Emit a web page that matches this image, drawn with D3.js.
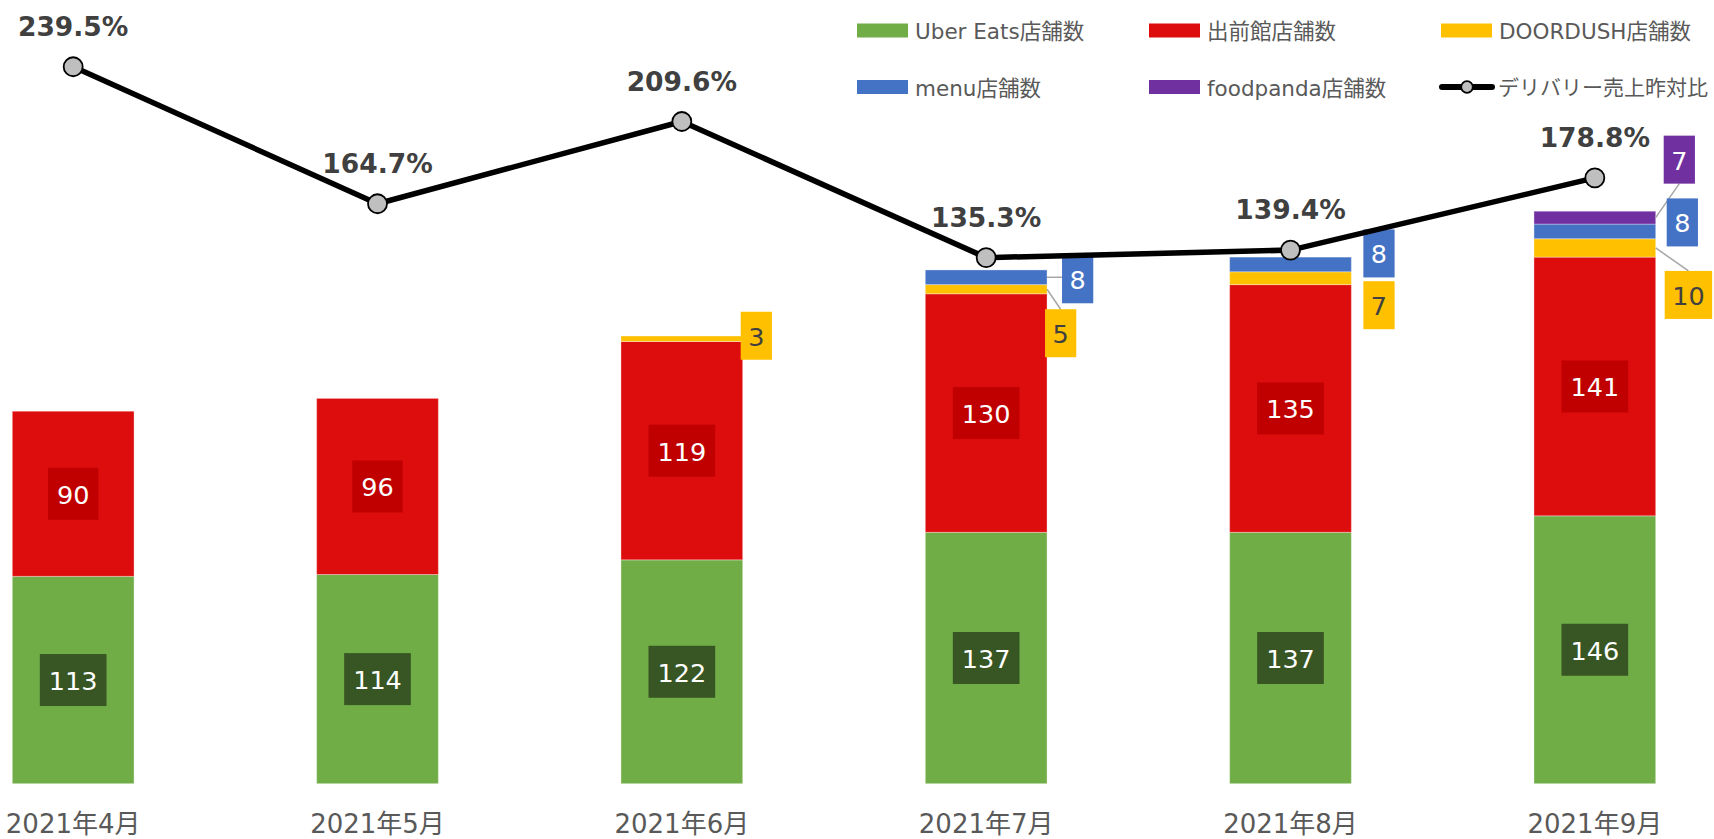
<!DOCTYPE html>
<html>
<head>
<meta charset="utf-8">
<script src="https://cdn.jsdelivr.net/npm/d3@7"></script>
<style>
  body { margin: 0; background: #fff; }
  svg { display: block; font-family: Verdana, "DejaVu Sans", "Noto Sans CJK JP", sans-serif; }
</style>
</head>
<body>
<script>
// data
var months = ['2021年4月', '2021年5月', '2021年6月', '2021年7月', '2021年8月', '2021年9月']
var uberEats = [113, 114, 122, 137, 137, 146]
var demaekan = [90, 96, 119, 130, 135, 141]
var doordush = [0, 0, 3, 5, 7, 10]
var menuShops = [0, 0, 0, 8, 8, 8]
var foodpanda = [0, 0, 0, 0, 0, 7]
var salesRatio = [239.5, 164.7, 209.6, 135.3, 139.4, 178.8]

var seriesKeys = ['uber', 'demae', 'door', 'menu', 'panda']
var seriesNames = ['Uber Eats店舗数', '出前館店舗数', 'DOORDUSH店舗数', 'menu店舗数', 'foodpanda店舗数']
var lineName = 'デリバリー売上昨対比'

var colors = {uber: '#70ad47', demae: '#de0d0d', door: '#ffc000', menu: '#4472c4', panda: '#7030a0'}
var boxColors = {uber: '#375623', demae: '#c00000', door: '#ffc000', menu: '#4472c4', panda: '#7030a0'}
var textColors = {uber: '#fff', demae: '#fff', door: '#404040', menu: '#fff', panda: '#fff'}

svgWidth = 1714
svgHeight = 839

// manual label nudges for the thin segments (like excel moved labels), px from bar right / segment middle
var smallNudge = {
  'door-2': {dx: -2, dy: -3},
  'menu-3': {dx: 15, dy: 2, leader: true},
  'door-3': {dx: -2, dy: 44, leader: true},
  'menu-4': {dx: 12, dy: -11},
  'door-4': {dx: 12, dy: 27},
  'panda-5': {dx: 8, dy: -58, leader: true},
  'menu-5': {dx: 11, dy: -9},
  'door-5': {dx: 9, dy: 47, leader: true}
}

var table = months.map(function(m, i) {
  return {month: m, uber: uberEats[i], demae: demaekan[i], door: doordush[i],
          menu: menuShops[i], panda: foodpanda[i], ratio: salesRatio[i]}
})

var stacked = d3.stack().keys(seriesKeys)(table)

xScale = d3.scaleBand()
            .domain(months)
            .range([-79, 1747])
            .paddingInner(0.6)
            .paddingOuter(0.3)

yScale = d3.scaleLinear()
            .domain([0, 350])
            .range([783.7, 141.5])

y2Scale = d3.scaleLinear()
            .domain([0, 250])
            .range([505.5, 47.5])

var svg = d3.select('body').append('svg')
          .attr('width', svgWidth)
          .attr('height', svgHeight)

// bars
var layers = svg.selectAll('g.layer')
            .data(stacked)
            .enter().append('g')
              .attr('class', 'layer')
              .attr('fill', function(d) { return colors[d.key] })

layers.selectAll('rect')
    .data(function(d) { return d.filter(function(p) { return p[1] - p[0] > 0 }) })
    .enter().append('rect')
      .attr('x', function(d) { return xScale(d.data.month) })
      .attr('y', function(d) { return yScale(d[1]) })
      .attr('width', xScale.bandwidth())
      .attr('height', function(d) { return yScale(d[0]) - yScale(d[1]) })
      .attr('stroke', '#fff')
      .attr('stroke-opacity', 0.35)
      .attr('stroke-width', 1)

// x axis
xAxis = d3.axisBottom().scale(xScale)
            .tickSize(0)
            .tickPadding(31)

var gx = svg.append('g')
    .attr('transform', 'translate(0, 783.7)')
    .call(xAxis)
gx.select('.domain').remove()
gx.selectAll('text')
    .attr('font-size', 26)
    .attr('fill', '#595959')
    .attr('font-family', 'Verdana, "DejaVu Sans", "Noto Sans CJK JP", sans-serif')

// value labels
var labelG = svg.append('g')
var leaderG = labelG.append('g')

stacked.forEach(function(layer) {
  var key = layer.key
  layer.forEach(function(p, i) {
    var v = p[1] - p[0]
    if (v <= 0) return
    var midY = (yScale(p[0]) + yScale(p[1])) / 2
    var big = key === 'uber' || key === 'demae'
    var g = labelG.append('g')
    var box = g.append('rect').attr('fill', boxColors[key])
    var t = g.append('text')
        .text(v)
        .attr('font-size', 25.5)
        .attr('fill', textColors[key])
        .attr('text-anchor', 'middle')
        .attr('dominant-baseline', 'central')
    var tw = t.node().getComputedTextLength()
    var bw, bh, cx, cy
    if (big) {
      bw = tw + 18; bh = 52
      cx = xScale(p.data.month) + xScale.bandwidth() / 2
      cy = midY
    } else {
      var n = smallNudge[key + '-' + i] || {dx: 8, dy: 0}
      bw = tw + 15; bh = 48
      var barRight = xScale(p.data.month) + xScale.bandwidth()
      cx = barRight + n.dx + bw / 2
      cy = midY + n.dy
      if (n.leader) {
        var lx, ly
        if (cy - bh / 2 > midY) { lx = cx; ly = cy - bh / 2 }
        else if (cy + bh / 2 < midY) { lx = cx; ly = cy + bh / 2 }
        else { lx = cx - bw / 2; ly = midY }
        leaderG.append('line')
            .attr('x1', barRight).attr('y1', midY)
            .attr('x2', lx).attr('y2', ly)
            .attr('stroke', '#a6a6a6')
            .attr('stroke-width', 1.5)
      }
    }
    box.attr('x', cx - bw / 2).attr('y', cy - bh / 2)
       .attr('width', bw).attr('height', bh)
    t.attr('x', cx).attr('y', cy + 1)
  })
})

// ratio line
var line = d3.line()
    .x(function(d) { return xScale(d.month) + xScale.bandwidth() / 2 })
    .y(function(d) { return y2Scale(d.ratio) })

svg.append('path')
    .datum(table)
    .attr('d', line)
    .attr('fill', 'none')
    .attr('stroke', '#000')
    .attr('stroke-width', 5.5)
    .attr('stroke-linejoin', 'round')

svg.selectAll('circle.pt')
    .data(table)
    .enter().append('circle')
      .attr('class', 'pt')
      .attr('cx', function(d) { return xScale(d.month) + xScale.bandwidth() / 2 })
      .attr('cy', function(d) { return y2Scale(d.ratio) })
      .attr('r', 9.5)
      .attr('fill', '#bfbfbf')
      .attr('stroke', '#000')
      .attr('stroke-width', 1.8)

svg.selectAll('text.ratio')
    .data(table)
    .enter().append('text')
      .attr('class', 'ratio')
      .attr('x', function(d) { return xScale(d.month) + xScale.bandwidth() / 2 })
      .attr('y', function(d) { return y2Scale(d.ratio) - 31 })
      .attr('text-anchor', 'middle')
      .attr('font-size', 26.5)
      .attr('font-weight', 'bold')
      .attr('fill', '#404040')
      .text(function(d) { return d.ratio.toFixed(1) + '%' })

// legend
var legendItems = seriesKeys.map(function(k, i) { return {key: k, name: seriesNames[i]} })
legendItems.push({key: 'line', name: lineName})

var legend = svg.append('g')
var items = legend.selectAll('g')
    .data(legendItems)
    .enter().append('g')
      .attr('transform', function(d, i) {
        return 'translate(' + (857 + (i % 3) * 292) + ', ' + (30.5 + Math.floor(i / 3) * 56.5) + ')'
      })

items.each(function(d) {
  var g = d3.select(this)
  if (d.key === 'line') {
    g.append('line')
        .attr('x1', 1).attr('x2', 51).attr('y1', 0).attr('y2', 0)
        .attr('stroke', '#000').attr('stroke-width', 6).attr('stroke-linecap', 'round')
    g.append('circle')
        .attr('cx', 26).attr('cy', 0).attr('r', 5.8)
        .attr('fill', '#bfbfbf').attr('stroke', '#000').attr('stroke-width', 1.8)
  } else {
    g.append('rect')
        .attr('x', 0).attr('y', -7).attr('width', 51).attr('height', 14)
        .attr('fill', colors[d.key])
  }
})

items.append('text')
    .attr('x', function(d) { return d.key === 'line' ? 57 : 58 })
    .attr('y', 1)
    .attr('dominant-baseline', 'central')
    .attr('font-size', function(d) { return d.key === 'line' ? 21 : 21.5 })
    .attr('fill', '#595959')
    .text(function(d) { return d.name })
</script>
</body>
</html>
